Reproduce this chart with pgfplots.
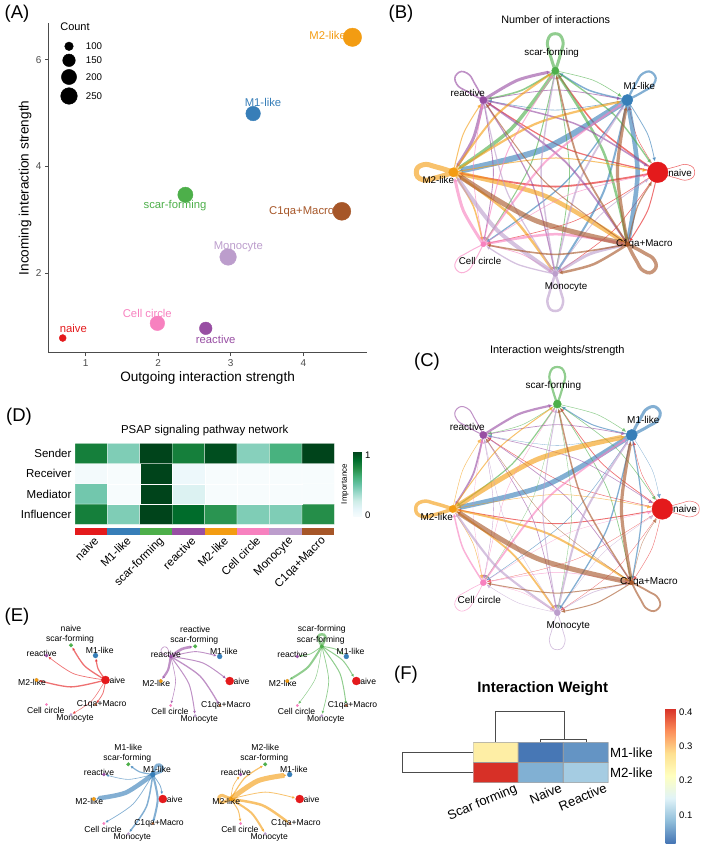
\documentclass[border=0pt]{standalone}
\usepackage{fontspec}
\setmainfont{Liberation Sans}
\usepackage{pgfplots}
\pgfplotsset{compat=1.18}
\usepgfplotslibrary{colormaps}
\usetikzlibrary{arrows.meta}
\pgfkeys{/pgf/number format/assume math mode=true}

\definecolor{cnaive}{HTML}{E41A1C}
\definecolor{cmone}{HTML}{377EB8}
\definecolor{cscar}{HTML}{4DAF4A}
\definecolor{creact}{HTML}{984EA3}
\definecolor{cmtwo}{HTML}{F39C12}
\definecolor{ccell}{HTML}{F781BF}
\definecolor{cmono}{HTML}{BC9DCC}
\definecolor{cmacro}{HTML}{A65628}
\def\colnames{{"cnaive","cmone","cscar","creact","cmtwo","ccell","cmono","cmacro"}}

\newcommand\fs[1]{\fontsize{#1}{#1}\selectfont}

% node positions, order as in \colnames
\def\bx{{657.7,627.3,555.3,483.3,453.3,483.3,555.3,627.7}}
\def\by{{172.3,100,70.7,100,172.3,244.3,274,244.3}}
\def\brad{{10.3,5.6,3.6,3.6,4.6,2.5,2.5,2}}
\def\cx{{662.3,631.7,557.3,483.3,452.7,483.3,557.3,631.7}}
\def\cy{{509,435,404,435,509,582.7,612.7,582.7}}
\def\crad{{10.3,5.6,4,3.6,3.6,3,3,2}}
\def\sox{{34.5,24.5,0,-24.5,-34.5,-24.5,0,24.5}}
\def\soy{{0,-24.5,-34.7,-24.5,0,24.5,34.7,24.5}}
\def\srad{{4,2.4,1.8,1.5,1.8,1.2,1.2,0.8}}

% edge widths, rows are the sender, diagonal is the self loop
\def\wB{{{0.6,0.5,1.5,1.2,1.8,0.6,0.6,1.0},
         {0.8,2.2,1.5,0.6,6.0,1.3,2.0,4.5},
         {1.4,0.6,3.0,1.6,3.5,1.0,0.8,2.5},
         {1.5,0.8,3.0,1.6,3.0,0.9,1.2,1.8},
         {1.0,2.2,2.0,1.0,5.0,1.5,2.5,4.5},
         {0.6,2.0,1.0,0.7,3.0,1.0,0.7,2.5},
         {0.8,1.8,1.5,1.2,4.0,1.3,2.5,3.0},
         {1.2,3.2,1.8,1.0,5.0,1.6,2.5,3.5}}}
\def\wC{{{0.5,0.4,0.7,0.5,0.9,0.3,0.3,0.4},
         {0.3,3.0,1.0,0.3,5.0,0.5,1.3,1.2},
         {0.6,0.5,2.2,0.5,1.2,0.3,0.4,0.7},
         {0.6,0.7,2.2,1.0,1.8,0.3,0.6,0.7},
         {0.5,5.0,1.0,0.5,3.5,0.5,1.8,2.0},
         {0.3,1.8,0.4,0.3,1.5,0.6,0.3,0.5},
         {0.3,2.0,1.0,0.4,2.2,0.4,0.7,0.7},
         {0.4,3.2,1.5,0.4,5.0,1.0,1.0,1.8}}}

% #1,#2 from  #3,#4 to  #5 colour  #6 width  #7 bow  #8 trim  #9 arrow length
\newcommand\netedge[9]{%
  \pgfmathsetmacro\ddx{#3-#1}\pgfmathsetmacro\ddy{#4-#2}%
  \pgfmathsetmacro\dist{veclen(\ddx,\ddy)}%
  \pgfmathsetmacro\mx{(#1+#3)/2+#7*\ddy}\pgfmathsetmacro\my{(#2+#4)/2-#7*\ddx}%
  \pgfmathsetmacro\ex{#3-(#8)*(#3-\mx)/veclen(#3-\mx,#4-\my)}%
  \pgfmathsetmacro\ey{#4-(#8)*(#4-\my)/veclen(#3-\mx,#4-\my)}%
  \edef\temp{\noexpand\addplot[smooth,forget plot,draw=#5,opacity=0.62,line width=#6pt,
     -{Latex[length=#9pt,width=#9pt]}] coordinates {(#1,#2)(\mx,\my)(\ex,\ey)};}\temp
}
% #1,#2 node  #3,#4 centre  #5 length  #6 half width  #7 colour  #8 line width
\newcommand\netloop[8]{%
  \pgfmathsetmacro\dist{veclen(#1-#3,#2-#4)}%
  \pgfmathsetmacro\ux{(#1-#3)/\dist}\pgfmathsetmacro\uy{(#2-#4)/\dist}%
  \pgfmathsetmacro\lax{#1+0.45*#5*\ux-0.7*#6*\uy}\pgfmathsetmacro\lay{#2+0.45*#5*\uy+0.7*#6*\ux}%
  \pgfmathsetmacro\lbx{#1+0.82*#5*\ux-#6*\uy}\pgfmathsetmacro\lby{#2+0.82*#5*\uy+#6*\ux}%
  \pgfmathsetmacro\lcx{#1+#5*\ux}\pgfmathsetmacro\lcy{#2+#5*\uy}%
  \pgfmathsetmacro\ldx{#1+0.82*#5*\ux+#6*\uy}\pgfmathsetmacro\ldy{#2+0.82*#5*\uy-#6*\ux}%
  \pgfmathsetmacro\lex{#1+0.45*#5*\ux+0.7*#6*\uy}\pgfmathsetmacro\ley{#2+0.45*#5*\uy-0.7*#6*\ux}%
  \edef\temp{\noexpand\addplot[smooth,tension=0.9,forget plot,draw=#7,opacity=0.62,line width=#8pt]
    coordinates {(#1,#2)(\lax,\lay)(\lbx,\lby)(\lcx,\lcy)(\ldx,\ldy)(\lex,\ley)(#1,#2)};}\temp
}
\newcommand\netnode[4]{%
  \edef\temp{\noexpand\addplot[only marks,forget plot,mark=*,mark size=#4pt,color=#3]
    coordinates {(#1,#2)};}\temp
}
% #1 xs  #2 ys  #3 widths  #4 radii  #5,#6 centre
\newcommand\bignet[6]{%
  \foreach \i in {0,...,7}{\foreach \j in {0,...,7}{%
    \pgfmathsetmacro\lw{#3[\i][\j]}%
    \pgfmathsetmacro\xa{#1[\i]}\pgfmathsetmacro\ya{#2[\i]}%
    \pgfmathsetmacro\xb{#1[\j]}\pgfmathsetmacro\yb{#2[\j]}%
    \pgfmathsetmacro\trimv{#4[\j]+0.8}%
    \pgfmathparse{\colnames[\i]}\edef\ecol{\pgfmathresult}%
    \ifnum\i=\j
      \netloop{\xa}{\ya}{#5}{#6}{37}{7.5}{\ecol}{\lw}%
    \else
      \netedge{\xa}{\ya}{\xb}{\yb}{\ecol}{\lw}{0.07}{\trimv}{4}%
    \fi
  }}%
  \foreach \i in {0,...,7}{%
    \pgfmathsetmacro\xa{#1[\i]}\pgfmathsetmacro\ya{#2[\i]}\pgfmathsetmacro\rad{#4[\i]}%
    \pgfmathparse{\colnames[\i]}\edef\ecol{\pgfmathresult}%
    \netnode{\xa}{\ya}{\ecol}{\rad}%
  }%
}
% #1,#2 centre  #3 sender  #4 widths  #5 title
\newcommand\smallnet[5]{%
  \pgfmathsetmacro\xa{#1+\sox[#3]}\pgfmathsetmacro\ya{#2+\soy[#3]}%
  \pgfmathparse{\colnames[#3]}\edef\ecol{\pgfmathresult}%
  \foreach \j in {0,...,7}{%
    \pgfmathsetmacro\lw{#4[\j]}%
    \pgfmathsetmacro\xb{#1+\sox[\j]}\pgfmathsetmacro\yb{#2+\soy[\j]}%
    \pgfmathsetmacro\trimv{\srad[\j]+0.6}%
    \ifdim\lw pt>0pt
      \ifnum#3=\j
        \netloop{\xa}{\ya}{#1}{#2}{12}{3.5}{\ecol}{\lw}%
      \else
        \netedge{\xa}{\ya}{\xb}{\yb}{\ecol}{\lw}{0.1}{\trimv}{3}%
      \fi
    \fi
  }%
  \foreach \i in {0,...,7}{%
    \pgfmathsetmacro\xb{#1+\sox[\i]}\pgfmathsetmacro\yb{#2+\soy[\i]}\pgfmathsetmacro\rad{\srad[\i]}%
    \pgfmathparse{\colnames[\i]}\edef\ncol{\pgfmathresult}%
    \netnode{\xb}{\yb}{\ncol}{\rad}%
  }%
  \node[font=\fs{8.6}] at (axis cs:#1,#2-51.7) {#5};
  \node[font=\fs{8.6}] at (axis cs:#1-1,#2-41) {scar-forming};
  \node[font=\fs{8.6}] at (axis cs:#1+28.7,#2-29.3) {M1-like};
  \node[font=\fs{8.6}] at (axis cs:#1-29.3,#2-26.7) {reactive};
  \node[font=\fs{8.6}] at (axis cs:#1-39,#2+2.7) {M2-like};
  \node[font=\fs{8.6}] at (axis cs:#1-25.3,#2+30) {Cell circle};
  \node[font=\fs{8.6}] at (axis cs:#1+4,#2+38.3) {Monocyte};
  \node[font=\fs{8.6}] at (axis cs:#1+30.7,#2+24) {C1qa+Macro};
  \node[font=\fs{8.6}] at (axis cs:#1+44,#2) {naive};
}
\newcommand\lab[4][black]{\node[font=\fs{#2},text=#1] at (axis cs:#3) {#4};}

\pgfplotstableread{
x y v
0 0 0.80
1 0 0.44
2 0 1.00
3 0 0.88
4 0 0.72
5 0 0.44
6 0 0.44
7 0 0.74
0 1 0.47
1 1 0.00
2 1 1.00
3 1 0.17
4 1 0.00
5 1 0.00
6 1 0.00
7 1 0.00
0 2 0.03
1 2 0.00
2 2 1.00
3 2 0.07
4 2 0.00
5 2 0.00
6 2 0.00
7 2 0.00
0 3 0.80
1 3 0.44
2 3 1.00
3 3 0.80
4 3 0.97
5 3 0.42
6 3 0.60
7 3 1.00
}\heatD

\pgfplotstableread{
x y v
0 0 0.41
1 0 0.07
2 0 0.10
0 1 0.25
1 1 0.02
2 1 0.045
}\heatF

\begin{document}
\begin{tikzpicture}
\path[use as bounding box] (0,0) rectangle (709pt,848pt);

% whole page in reference pixels: networks, labels, dendrograms
\begin{axis}[at={(0,0)},anchor=south west,scale only axis,width=709pt,height=848pt,
  xmin=0,xmax=709,ymin=0,ymax=848,y dir=reverse,hide axis,clip=false]

\lab{18.5}{17,14}{(A)}
\lab{18.5}{401,14}{(B)}
\lab{18.5}{427,362}{(C)}
\lab{18.5}{19,417}{(D)}
\lab{18.5}{17,617}{(E)}
\lab{18.5}{406,675}{(F)}

% panel A point labels, the dots of the scatter lie over them
\lab[cnaive]{11.3}{73.3,328.3}{naive}
\lab[ccell]{11.3}{147.3,313.3}{Cell circle}
\lab[creact]{11.3}{215.7,339.7}{reactive}
\lab[cscar]{11.3}{175,205.3}{scar-forming}
\lab[cmono]{11.3}{238.3,247}{Monocyte}
\lab[cmacro]{11.3}{301.7,211.7}{C1qa+Macro}
\lab[cmtwo]{11.3}{327.7,35}{M2-like}
\lab[cmone]{11.3}{263,102.7}{M1-like}

% panel A size legend
\lab{11}{75,27}{Count}
\addplot[only marks,mark=*,mark size=4.3pt,black,forget plot] coordinates {(69,46.3)};
\addplot[only marks,mark=*,mark size=6.3pt,black,forget plot] coordinates {(69,60.3)};
\addplot[only marks,mark=*,mark size=7.6pt,black,forget plot] coordinates {(69,77)};
\addplot[only marks,mark=*,mark size=8.3pt,black,forget plot] coordinates {(69,96)};
\lab{9.7}{94,46.3}{100}
\lab{9.7}{94,60.3}{150}
\lab{9.7}{94,77}{200}
\lab{9.7}{94,96}{250}

% panel B
\lab{10.8}{555.7,20}{Number of interactions}
\bignet{\bx}{\by}{\wB}{\brad}{555.5}{172.3}
\lab{9.8}{551.7,52.7}{scar-forming}
\lab{9.8}{639.3,86}{M1-like}
\lab{9.8}{467.7,93.3}{reactive}
\lab{9.8}{680,172.7}{naive}
\lab{9.8}{438.3,180.3}{M2-like}
\lab{9.8}{644.3,244}{C1qa+Macro}
\lab{9.8}{480,261.3}{Cell circle}
\lab{9.8}{566,286.7}{Monocyte}

% panel C
\lab{11}{557.3,350.7}{Interaction weights/strength}
\bignet{\cx}{\cy}{\wC}{\crad}{557.5}{509}
\lab{10}{553.3,385.7}{scar-forming}
\lab{10}{643.3,419.7}{M1-like}
\lab{10}{467.3,427.3}{reactive}
\lab{10}{685,509.3}{naive}
\lab{10}{436.7,516.7}{M2-like}
\lab{10}{649,582.3}{C1qa+Macro}
\lab{10}{479.3,600}{Cell circle}
\lab{10}{568.3,626}{Monocyte}

% panel D side texts
\lab{11.4}{204.7,431}{PSAP signaling pathway network}
\node[font=\fs{8},rotate=90] at (axis cs:345,484) {Importance};

% panel E
\smallnet{71}{680}{0}{{0,1.2,1.3,0.7,1.3,0,0.5,0.8}}{naive}
\smallnet{195.2}{681}{3}{{1,0.9,2.6,0.6,2.2,0.6,1,1.3}}{reactive}
\smallnet{321.8}{681}{2}{{1,0.9,2.5,0.8,2,0.5,0.7,1}}{scar-forming}
\smallnet{128.3}{799}{1}{{0.8,3,1.2,0.6,4.5,0.7,1.5,2}}{M1-like}
\smallnet{265.2}{799}{4}{{0.8,5,1.2,0.7,3,1,2,2.5}}{M2-like}

% panel F
\node[font=\bfseries\fs{15}] at (axis cs:542.7,688.3) {Interaction Weight};
\addplot[black!70,line width=0.9pt,forget plot] coordinates {(495,742.3)(495,711.3)(564,711.3)(564,739.3)};
\addplot[black!70,line width=0.9pt,forget plot] coordinates {(540.7,742.3)(540.7,739.3)(586.7,739.3)(586.7,742.3)};
\addplot[black!70,line width=0.9pt,forget plot] coordinates {(472.7,752.3)(402.3,752.3)(402.3,772.3)(472.7,772.3)};
\end{axis}

% panel A
\begin{axis}[at={(48.5pt,495.3pt)},anchor=south west,scale only axis,width=318.2pt,height=329.7pt,
  xmin=0.487,xmax=4.874,ymin=0.506,ymax=6.688,
  axis x line*=bottom,axis y line*=left,axis line style={-,draw=black!70,line width=0.9pt},
  xtick={1,2,3,4},ytick={2,4,6},
  tick style={draw=black!70,line width=0.7pt},tick align=outside,major tick length=3.5pt,
  ticklabel style={font=\fs{10},text=black!70},
  xlabel={Outgoing interaction strength},ylabel={Incoming interaction strength},
  label style={font=\fs{13.6}},
  xlabel style={at={(axis description cs:0.5,-0.0776)},anchor=center},
  ylabel style={at={(axis description cs:-0.0739,0.5)},anchor=center},
  clip=false]
\addplot[only marks,mark=*,mark size=3.5pt,color=cnaive] coordinates {(0.683,0.781)};
\addplot[only marks,mark=*,mark size=7.3pt,color=ccell] coordinates {(1.988,1.057)};
\addplot[only marks,mark=*,mark size=6.3pt,color=creact] coordinates {(2.655,0.963)};
\addplot[only marks,mark=*,mark size=7.6pt,color=cscar] coordinates {(2.374,3.468)};
\addplot[only marks,mark=*,mark size=8.3pt,color=cmono] coordinates {(2.963,2.30)};
\addplot[only marks,mark=*,mark size=9pt,color=cmacro] coordinates {(4.531,3.157)};
\addplot[only marks,mark=*,mark size=9.2pt,color=cmtwo] coordinates {(4.677,6.42)};
\addplot[only marks,mark=*,mark size=7.3pt,color=cmone] coordinates {(3.308,4.99)};
\end{axis}

% panel D heat map
\begin{axis}[at={(75pt,323.7pt)},anchor=south west,scale only axis,width=259.3pt,height=81pt,
  xmin=-0.5,xmax=7.5,ymin=-0.5,ymax=3.5,
  axis line style={draw=none},tick style={draw=none},
  xtick=\empty,ytick={0,1,2,3},yticklabels={Influencer,Mediator,Receiver,Sender},
  yticklabel style={font=\fs{11.5}},
  colormap={bugn}{rgb255=(247,252,253) rgb255=(229,245,249) rgb255=(204,236,230) rgb255=(153,216,201)
    rgb255=(102,194,164) rgb255=(65,174,118) rgb255=(35,139,69) rgb255=(0,109,44) rgb255=(0,68,27)},
  point meta min=0,point meta max=1,
  colorbar,
  colorbar style={at={(1.0733,0.896)},anchor=north west,scale only axis,width=8.4pt,height=65pt,
    ytick={0.03,0.95},yticklabels={0,1},yticklabel style={font=\fs{9.5}},tick style={draw=none},axis line style={draw=none}}]
\addplot[matrix plot*,mesh/cols=8,point meta=explicit,draw=white,line width=0.25pt]
  table[x=x,y=y,meta=v] {\heatD};
\end{axis}

% panel D colour strip
\begin{axis}[at={(75pt,313.3pt)},anchor=south west,scale only axis,width=259.3pt,height=7pt,
  xmin=-0.5,xmax=7.5,ymin=0,ymax=1,
  axis line style={draw=none},tick style={draw=none},ytick=\empty,
  xtick={0,1,2,3,4,5,6,7},
  xticklabels={naive,M1-like,scar-forming,reactive,M2-like,Cell circle,Monocyte,C1qa+Macro},
  xticklabel style={font=\fs{11.5},rotate=45,anchor=north east,xshift=3pt,inner sep=2pt}]
\addplot[fill=cnaive,draw=none] coordinates {(-0.5,0)(0.5,0)(0.5,1)(-0.5,1)} --cycle;
\addplot[fill=cmone,draw=none] coordinates {(0.5,0)(1.5,0)(1.5,1)(0.5,1)} --cycle;
\addplot[fill=cscar,draw=none] coordinates {(1.5,0)(2.5,0)(2.5,1)(1.5,1)} --cycle;
\addplot[fill=creact,draw=none] coordinates {(2.5,0)(3.5,0)(3.5,1)(2.5,1)} --cycle;
\addplot[fill=cmtwo,draw=none] coordinates {(3.5,0)(4.5,0)(4.5,1)(3.5,1)} --cycle;
\addplot[fill=ccell,draw=none] coordinates {(4.5,0)(5.5,0)(5.5,1)(4.5,1)} --cycle;
\addplot[fill=cmono,draw=none] coordinates {(5.5,0)(6.5,0)(6.5,1)(5.5,1)} --cycle;
\addplot[fill=cmacro,draw=none] coordinates {(6.5,0)(7.5,0)(7.5,1)(6.5,1)} --cycle;
\end{axis}

% panel F heat map
\begin{axis}[at={(473.3pt,65.3pt)},anchor=south west,scale only axis,width=135pt,height=40.4pt,
  xmin=-0.5,xmax=2.5,ymin=-0.5,ymax=1.5,
  axis line style={draw=none},tick style={draw=none},
  xtick={0,1,2},xticklabels={Scar forming,Naive,Reactive},
  xticklabel style={font=\fs{13},rotate=23,anchor=north east,xshift=19pt,yshift=-5pt,inner sep=2pt},
  ytick={0,1},yticklabels={M2-like,M1-like},yticklabel pos=right,
  yticklabel style={font=\fs{13.3},inner sep=1.5pt},
  colormap={rdylbu}{rgb255=(69,117,180) rgb255=(145,191,219) rgb255=(224,243,248) rgb255=(255,255,191)
    rgb255=(254,224,144) rgb255=(252,141,89) rgb255=(215,48,39)},
  point meta min=0.018,point meta max=0.41,
  colorbar,
  colorbar style={at={(1.425,1.8416)},anchor=north west,scale only axis,width=10pt,height=135pt,
    ytick={0.1,0.2,0.3,0.4},yticklabel style={font=\fs{9.5},/pgf/number format/fixed,
    /pgf/number format/precision=1,/pgf/number format/fixed zerofill},
    tick style={draw=none},axis line style={draw=none}}]
\addplot[matrix plot*,mesh/cols=3,point meta=explicit,draw=black!40,line width=0.8pt]
  table[x=x,y=y,meta=v] {\heatF};
\end{axis}
\end{tikzpicture}
\end{document}
